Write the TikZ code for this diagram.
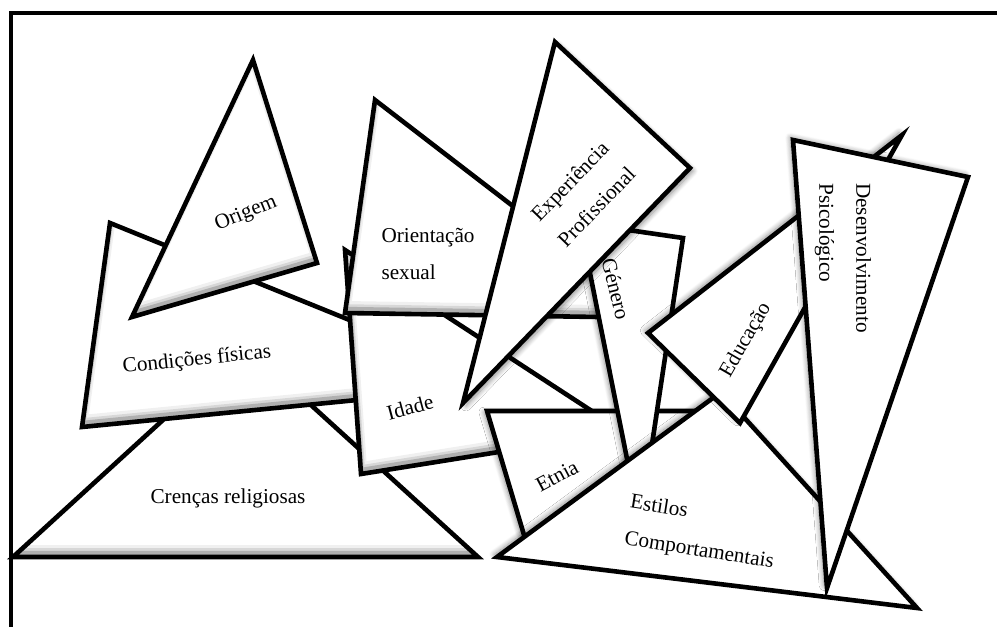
\documentclass[tikz,border=0pt]{standalone}
\usepackage{fontspec}
\setmainfont{Liberation Serif}
\usetikzlibrary{shadows.blur}
\tikzset{
  outl/.style={draw=black, line width=2.3pt, line join=miter, miter limit=6},
  lbl/.style={font=\fontsize{10.6}{18.5}\selectfont, inner sep=0pt, align=left},
  shdexp/.style={blur shadow={shadow xshift=1.5pt, shadow yshift=-1.5pt, shadow blur radius=2.5pt, shadow blur steps=8, shadow opacity=45}},
  shdleft/.style={blur shadow={shadow xshift=-1.5pt, shadow yshift=-0.6pt, shadow blur radius=2.5pt, shadow blur steps=8, shadow opacity=45}},
  shdupleft/.style={blur shadow={shadow xshift=-1.4pt, shadow yshift=1.2pt, shadow blur radius=2.5pt, shadow blur steps=8, shadow opacity=45}},
  frameline/.style={draw=black, line width=2pt, line join=miter}
}
\newcommand\bevelfill[1]{%
  \fill[white] #1;
  \begin{scope}
    \clip #1;
    \draw[black, draw opacity=0.06, line width=6pt, line join=round, yshift=3pt] #1;
    \draw[black, draw opacity=0.10, line width=4pt, line join=round, yshift=2.4pt] #1;
    \draw[black, draw opacity=0.18, line width=2.6pt, line join=round, yshift=1.8pt] #1;
  \end{scope}
  \draw[outl] #1;
}
\newcommand\shadowfill[2]{%
  \fill[white, #1] #2;
  \draw[outl] #2;
}
\begin{document}
\begin{tikzpicture}[x=0.5pt, y=-0.5pt]
\useasboundingbox (0,0) rectangle (997,627);
% frame
\draw[frameline] (997,13) -- (11,13) -- (11,627);

% Crencas religiosas
\bevelfill{(13,557) -- (478,557) -- (245,345) -- cycle}
\node[lbl] (cren) at (228,498) {Crenças religiosas};

% Condicoes fisicas
\bevelfill{(110,223) -- (82,427) -- (510,385) -- cycle}
\node[lbl, rotate=6] (cond) at (197,360) {Condições físicas};

% Origem
\bevelfill{(253,60) -- (317,263) -- (132,317) -- cycle}
\node[lbl, rotate=22] (origem) at (246,214) {Origem};

% Idade
\bevelfill{(345,250) -- (361,474) -- (624,432) -- cycle}
\node[lbl, rotate=15] (idade) at (410,407) {Idade};

% Orientacao sexual
\bevelfill{(375,100) -- (540,227) -- (620,235) -- (662,318) -- (345,313) -- cycle}
\node[lbl] (orient) at (428,254) {Orientação\\sexual};

% Etnia
\shadowfill{shdleft}{(487,411) -- (715,411) -- (527,545) -- cycle}
\node[lbl, rotate=28] (etnia) at (557,476) {Etnia};

% Genero
\shadowfill{shdleft}{(580,223) -- (683,238) -- (640,524) -- cycle}
\node[lbl, rotate=-76] (genero) at (616,289) {Género};

% Experiencia Profissional
\shadowfill{shdexp}{(555,42) -- (690,168) -- (463,403) -- cycle}
\node[lbl, rotate=46] (exper) at (583,194) {Experiência\\Profissional};

% Estilos Comportamentais
\shadowfill{shdupleft}{(497,557) -- (917,608) -- (721,392) -- cycle}
\node[lbl, rotate=-9] (estilos) at (702,533) {Estilos\\Comportamentais};

% Educacao
\shadowfill{shdupleft}{(648,333) -- (902,135) -- (740,423) -- cycle}
\node[lbl, rotate=60] (educ) at (746,340) {Educação};

% Desenvolvimento Psicologico
\shadowfill{shdupleft}{(793,140) -- (968,177) -- (827,588) -- cycle}
\node[lbl, rotate=-90] (desenv) at (843,258) {Desenvolvimento\\Psicológico};
\end{tikzpicture}
\end{document}
